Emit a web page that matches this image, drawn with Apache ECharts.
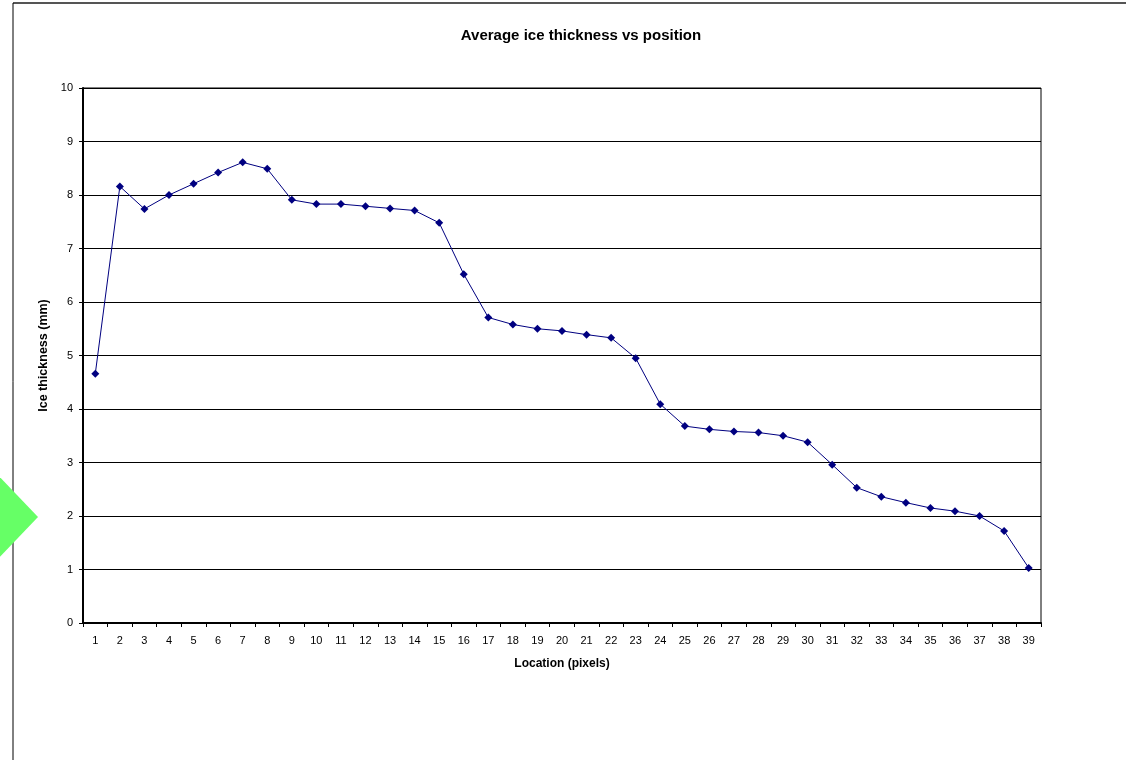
<!DOCTYPE html>
<html>
<head>
<meta charset="utf-8">
<script src="https://cdn.jsdelivr.net/npm/echarts@6/dist/echarts.min.js"></script>
<style>
    html, body { margin: 0; padding: 0; background: #fff; }
    #chart { width: 1126px; height: 760px; }
</style>
</head>
<body>
<div id="chart"></div>
<script>
    // locations 1..39
    var locations = [];
    for (var i = 1; i <= 39; i++) {
        locations.push(String(i));
    }
    // average ice thickness (mm)
    var thickness = [
        4.66, 8.16, 7.74, 8.00, 8.21, 8.42, 8.61, 8.49, 7.91, 7.83,
        7.83, 7.79, 7.75, 7.71, 7.48, 6.52, 5.71, 5.58, 5.50, 5.46,
        5.39, 5.33, 4.95, 4.09, 3.68, 3.62, 3.58, 3.56, 3.50, 3.38,
        2.96, 2.53, 2.36, 2.25, 2.15, 2.09, 2.00, 1.72, 1.03
    ];
    var yMin = 0, yMax = 10, yStep = 1;

    var chart = echarts.init(document.getElementById('chart'));
    chart.setOption({
        backgroundColor: '#fff',
        textStyle: { fontFamily: 'Liberation Sans, Arial, sans-serif' },
        title: {
            text: 'Average ice thickness vs position',
            left: 576,
            top: 23,
            textAlign: 'center',
            textStyle: { fontSize: 15, fontWeight: 'bold', color: '#000' }
        },
        graphic: [
            // outer frame (top and left edges)
            { type: 'line', shape: { x1: 13, y1: 3, x2: 1126, y2: 3 }, style: { stroke: '#555', lineWidth: 2 } },
            { type: 'line', shape: { x1: 13, y1: 3, x2: 13, y2: 760 }, style: { stroke: '#000', lineWidth: 1 } },
            // green diamond on the left edge
            { type: 'polygon', shape: { points: [[-8, 469], [38, 517], [-8, 565], [-54, 517]] }, style: { fill: '#66ff66' } }
        ],
        grid: {
            left: 83,
            right: 85,
            top: 88,
            bottom: 137,
            show: true,
            borderColor: '#000',
            borderWidth: 1
        },
        xAxis: {
            type: 'category',
            data: locations,
            boundaryGap: true,
            name: 'Location (pixels)',
            nameLocation: 'middle',
            nameGap: 35,
            nameTextStyle: { fontSize: 12, fontWeight: 'bold', color: '#000' },
            axisLine: { lineStyle: { color: '#000', width: 2 } },
            axisTick: { show: true, length: 4, interval: 0, lineStyle: { color: '#000' } },
            axisLabel: { interval: 0, fontSize: 11, color: '#000', margin: 12 },
            splitLine: { show: false }
        },
        yAxis: {
            type: 'value',
            min: yMin,
            max: yMax,
            interval: yStep,
            name: 'Ice thickness (mm)',
            nameLocation: 'middle',
            nameGap: 30,
            nameTextStyle: { fontSize: 12.5, fontWeight: 'bold', color: '#000' },
            axisLine: { show: true, lineStyle: { color: '#000', width: 2 } },
            axisTick: { show: true, length: 4, lineStyle: { color: '#000' } },
            axisLabel: { fontSize: 11, color: '#000', margin: 10 },
            splitLine: { show: true, lineStyle: { color: '#000', width: 1 } }
        },
        series: [
            {
                name: 'Average ice thickness',
                type: 'line',
                data: thickness,
                symbol: 'diamond',
                symbolSize: 8,
                itemStyle: { color: '#000080' },
                lineStyle: { color: '#000080', width: 1 },
                animation: false
            }
        ]
    });
</script>
</body>
</html>
